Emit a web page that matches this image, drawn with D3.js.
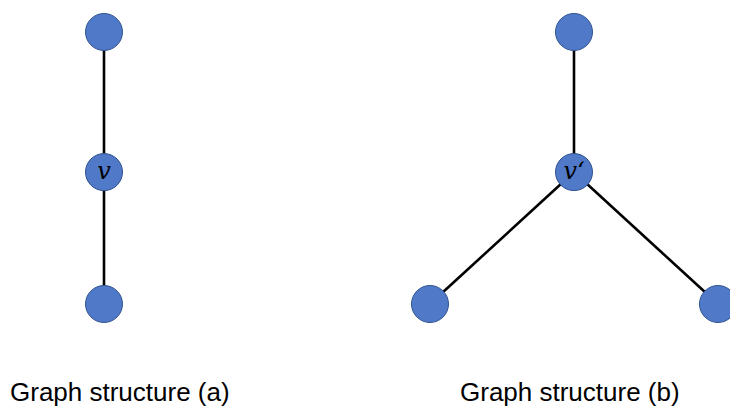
<!DOCTYPE html>
<html>
<head>
<meta charset="utf-8">
<script src="https://cdn.jsdelivr.net/npm/d3@7"></script>
<style>
  body { margin: 0; background: #fff; }
  svg { display: block; }
</style>
</head>
<body>
<svg id="vis" width="730" height="407"></svg>
<script>
// graph (a): a simple path, graph (b): a node with three neighbours
var graphNames = ["Graph structure (a)", "Graph structure (b)"];
var nodesA = [{id: "a0", gx: 0, gy: 0, label: ""},
              {id: "a1", gx: 0, gy: 1.03, label: "v"},
              {id: "a2", gx: 0, gy: 2, label: ""}];
var linksA = [["a0", "a1"], ["a1", "a2"]];
var nodesB = [{id: "b0", gx: 0, gy: 0, label: ""},
              {id: "b1", gx: 0, gy: 1.03, label: "v\u2018"},
              {id: "b2", gx: -1, gy: 2, label: ""},
              {id: "b3", gx: 1, gy: 2, label: ""}];
var linksB = [["b0", "b1"], ["b1", "b2"], ["b1", "b3"]];

var svg = d3.select("#vis");

var y = d3.scaleLinear().domain([0, 2]).range([32, 304]);
// one horizontal scale per graph, centred on its own column
var xA = d3.scaleLinear().domain([-1, 1]).range([-40, 248]);
var xB = d3.scaleLinear().domain([-1, 1]).range([430, 718]);

var r = 18.5;

function drawGraph(nodes, links, x, name, labelX) {
    var byId = {};
    nodes.forEach(function(d) { byId[d.id] = d; });

    var g = svg.append("g");

    g.selectAll(".edge")
        .data(links).enter()
        .append("line")
        .attr("class", "edge")
        .attr("x1", function(d) { return x(byId[d[0]].gx); })
        .attr("y1", function(d) { return y(byId[d[0]].gy); })
        .attr("x2", function(d) { return x(byId[d[1]].gx); })
        .attr("y2", function(d) { return y(byId[d[1]].gy); })
        .style("stroke", "#000")
        .style("stroke-width", 2.6);

    var node = g.selectAll(".node")
        .data(nodes).enter()
        .append("g")
        .attr("class", "node")
        .attr("transform", function(d) { return "translate(" + x(d.gx) + "," + y(d.gy) + ")"; });

    node.append("circle")
        .attr("r", r)
        .style("fill", "#5079c8")
        .style("stroke", "#2f528f")
        .style("stroke-width", 1);

    node.append("text")
        .attr("text-anchor", "middle")
        .attr("dy", "0.3em")
        .style("font", "italic 24px 'DejaVu Serif'")
        .style("fill", "#000")
        .text(function(d) { return d.label; });

    svg.append("text")
        .attr("x", labelX)
        .attr("y", 401)
        .style("font", "26px 'Liberation Sans'")
        .style("fill", "#000")
        .text(name);
}

drawGraph(nodesA, linksA, xA, graphNames[0], 10);
drawGraph(nodesB, linksB, xB, graphNames[1], 460);
</script>
</body>
</html>
